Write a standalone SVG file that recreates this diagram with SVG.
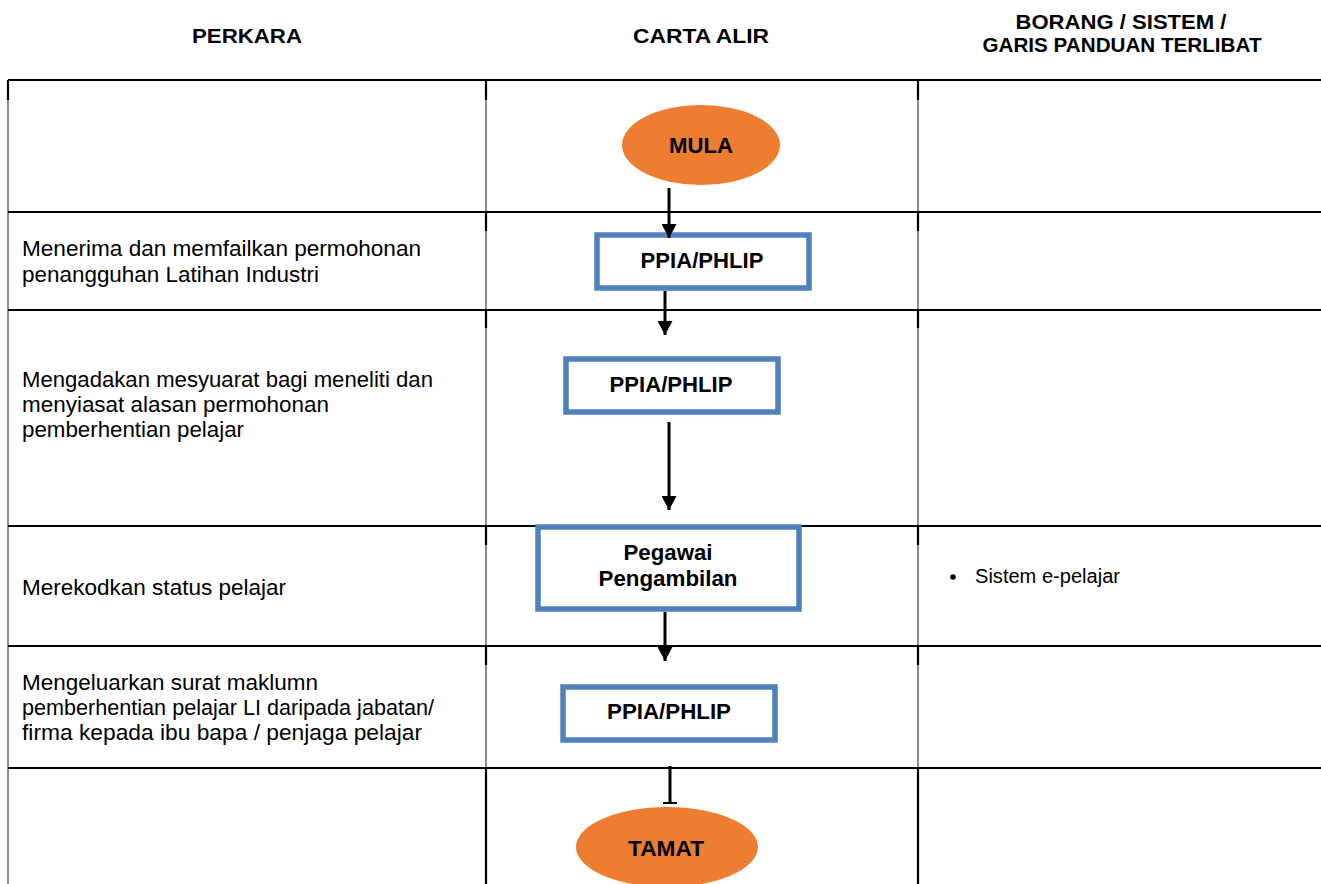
<svg xmlns="http://www.w3.org/2000/svg" width="1321" height="884" viewBox="0 0 1321 884">
  <style>
    .hdr { font-family: "Liberation Sans", Arial, sans-serif; font-size: 21px; font-weight: bold; fill: #000; text-anchor: middle; }
    .cell { font-family: "Liberation Sans", Arial, sans-serif; font-size: 22px; fill: #000; }
    .small { font-family: "Liberation Sans", Arial, sans-serif; font-size: 19.5px; fill: #000; }
    .lbl { font-family: "Liberation Sans", Arial, sans-serif; font-size: 22px; font-weight: bold; fill: #000; text-anchor: middle; }
    .grid { stroke: #000; stroke-width: 2; fill: none; }
    .vgrid { stroke: #6e6e6e; stroke-width: 1.6; fill: none; }
    .vtop { stroke: #000; stroke-width: 2.2; fill: none; }
    .term { fill: #ED7D31; }
    .proc { fill: #fff; stroke: #4F81BD; stroke-width: 5.5; }
    .conn { stroke: #000; stroke-width: 3; fill: none; }
  </style>
  <defs>
    <marker id="arrow" markerUnits="userSpaceOnUse" markerWidth="15" markerHeight="15" viewBox="0 0 14 15" refX="14" refY="7.5" orient="auto">
      <path d="M0,0 L14,7.5 L0,15 z" fill="#000"/>
    </marker>
  </defs>

  <rect width="1321" height="884" fill="#fff"/>

  <!-- column headings -->
  <g id="headings">
    <text class="hdr" x="247" y="43" textLength="110" lengthAdjust="spacingAndGlyphs">PERKARA</text>
    <text class="hdr" x="701" y="43" textLength="136" lengthAdjust="spacingAndGlyphs">CARTA ALIR</text>
    <text class="hdr" x="1121" y="29" textLength="211" lengthAdjust="spacingAndGlyphs">BORANG / SISTEM /</text>
    <text class="hdr" x="1122" y="52" textLength="279" lengthAdjust="spacingAndGlyphs">GARIS PANDUAN TERLIBAT</text>
  </g>

  <!-- table rules -->
  <g id="table">
    <line class="vgrid" x1="8" y1="80" x2="8" y2="884"/>
    <line class="vgrid" x1="486" y1="80" x2="486" y2="884"/>
    <line class="vgrid" x1="918" y1="80" x2="918" y2="884"/>
    <path class="vtop" d="M486,80 V100 M918,80 V100 M486,212 V231 M918,212 V231 M486,310 V328 M918,310 V328 M486,526 V545 M918,526 V545 M486,646 V665 M918,646 V665 M486,768 V884 M918,768 V884 M8,80 V100"/>
    <line class="grid" x1="8" y1="80" x2="1321" y2="80"/>
    <line class="grid" x1="8" y1="212" x2="1321" y2="212"/>
    <line class="grid" x1="8" y1="310" x2="1321" y2="310"/>
    <line class="grid" x1="8" y1="526" x2="1321" y2="526"/>
    <line class="grid" x1="8" y1="646" x2="1321" y2="646"/>
    <line class="grid" x1="8" y1="768" x2="1321" y2="768"/>
  </g>

  <!-- row descriptions -->
  <g id="perkara">
    <text class="cell" x="22" y="256" textLength="399" lengthAdjust="spacingAndGlyphs">Menerima dan memfailkan permohonan</text>
    <text class="cell" x="22" y="282" textLength="297" lengthAdjust="spacingAndGlyphs">penangguhan Latihan Industri</text>
    <text class="cell" x="22" y="387" textLength="411" lengthAdjust="spacingAndGlyphs">Mengadakan mesyuarat bagi meneliti dan</text>
    <text class="cell" x="22" y="412" textLength="307" lengthAdjust="spacingAndGlyphs">menyiasat alasan permohonan</text>
    <text class="cell" x="22" y="437" textLength="222" lengthAdjust="spacingAndGlyphs">pemberhentian pelajar</text>
    <text class="cell" x="22" y="595" textLength="264" lengthAdjust="spacingAndGlyphs">Merekodkan status pelajar</text>
    <text class="cell" x="22" y="690" textLength="296" lengthAdjust="spacingAndGlyphs">Mengeluarkan surat maklumn</text>
    <text class="cell" x="22" y="715" textLength="412" lengthAdjust="spacingAndGlyphs">pemberhentian pelajar LI daripada jabatan/</text>
    <text class="cell" x="22" y="740" textLength="400" lengthAdjust="spacingAndGlyphs">firma kepada ibu bapa / penjaga pelajar</text>
  </g>

  <!-- forms / systems column -->
  <g id="borang">
    <circle cx="953" cy="577" r="2.8" fill="#000"/>
    <text class="small" x="975" y="583" textLength="145" lengthAdjust="spacingAndGlyphs">Sistem e-pelajar</text>
  </g>

  <!-- flow nodes -->
  <g id="mula">
    <ellipse class="term" cx="701" cy="145" rx="79" ry="40"/>
    <text class="lbl" x="701" y="153" textLength="64" lengthAdjust="spacingAndGlyphs">MULA</text>
  </g>
  <g id="ppia1">
    <rect class="proc" x="597" y="235" width="212" height="53"/>
    <text class="lbl" x="702" y="268" textLength="123" lengthAdjust="spacingAndGlyphs">PPIA/PHLIP</text>
  </g>
  <g id="ppia2">
    <rect class="proc" x="566" y="359" width="212" height="53"/>
    <text class="lbl" x="671" y="392" textLength="123" lengthAdjust="spacingAndGlyphs">PPIA/PHLIP</text>
  </g>
  <g id="pegawai">
    <rect class="proc" x="538" y="527" width="261" height="82"/>
    <text class="lbl" x="668" y="560" textLength="89" lengthAdjust="spacingAndGlyphs">Pegawai</text>
    <text class="lbl" x="668" y="586" textLength="139" lengthAdjust="spacingAndGlyphs">Pengambilan</text>
  </g>
  <g id="ppia3">
    <rect class="proc" x="563" y="687" width="212" height="53"/>
    <text class="lbl" x="669" y="719" textLength="124" lengthAdjust="spacingAndGlyphs">PPIA/PHLIP</text>
  </g>
  <g id="tamat">
    <ellipse class="term" cx="667" cy="847" rx="91" ry="40"/>
    <text class="lbl" x="666" y="856" textLength="76" lengthAdjust="spacingAndGlyphs">TAMAT</text>
  </g>

  <!-- connectors -->
  <g id="connectors">
    <line class="conn" x1="669" y1="188" x2="669" y2="238" marker-end="url(#arrow)"/>
    <line class="conn" x1="665" y1="291" x2="665" y2="335" marker-end="url(#arrow)"/>
    <line class="conn" x1="669" y1="422" x2="669" y2="510" marker-end="url(#arrow)"/>
    <line class="conn" x1="665" y1="612" x2="665" y2="661" marker-end="url(#arrow)"/>
    <line class="conn" x1="670" y1="766" x2="670" y2="803"/>
    <line stroke="#000" stroke-width="2" x1="663" y1="803" x2="677" y2="803"/>
  </g>
</svg>
